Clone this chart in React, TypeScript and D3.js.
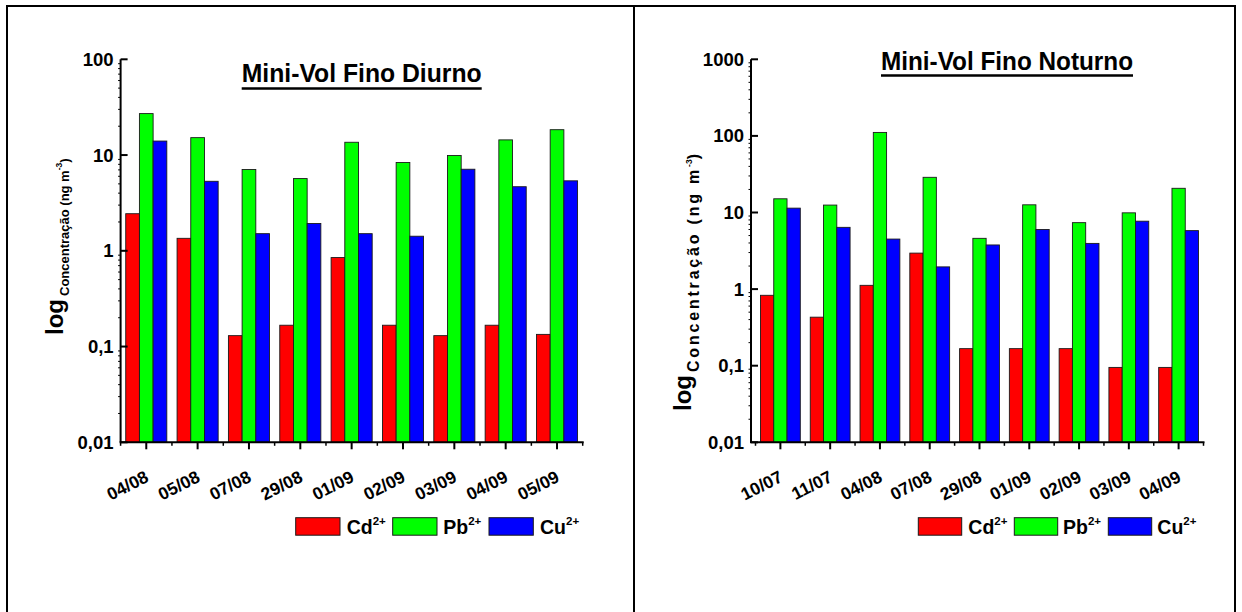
import React from 'react';
import * as d3 from 'd3';

const datesDiurno = ['04/08', '05/08', '07/08', '29/08', '01/09', '02/09', '03/09', '04/09', '05/09'];
const cdDiurno = [2.44, 1.35, 0.13, 0.167, 0.85, 0.167, 0.13, 0.167, 0.134];
const pbDiurno = [27.1, 15.2, 7.06, 5.68, 13.6, 8.36, 9.9, 14.4, 18.4];
const cuDiurno = [14.0, 5.32, 1.51, 1.93, 1.51, 1.42, 7.11, 4.67, 5.38];

const datesNoturno = ['10/07', '11/07', '04/08', '07/08', '29/08', '01/09', '02/09', '03/09', '04/09'];
const cdNoturno = [0.83, 0.43, 1.12, 2.95, 0.167, 0.167, 0.167, 0.095, 0.095];
const pbNoturno = [15.1, 12.5, 111, 28.8, 4.6, 12.6, 7.37, 9.9, 20.7];
const cuNoturno = [11.4, 6.4, 4.5, 1.95, 3.77, 6.0, 3.95, 7.7, 5.8];

const seriesNames = ['Cd', 'Pb', 'Cu'];
const seriesCharge = '2+';
const seriesColors = ['#ff0000', '#00ff00', '#0000ff'];
const yTicksDiurno = [0.01, 0.1, 1, 10, 100];
const yTicksNoturno = [0.01, 0.1, 1, 10, 100, 1000];

const FONT = "'Liberation Sans', Arial, Helvetica, sans-serif";

type Layout = {
  axisX: number;
  bandX0: number;
  bandX1: number;
  yTop: number;
  yBottom: number;
  titleX0: number;
  titleX1: number;
  titleBase: number;
  underlineY: number;
  logX: number;
  labelStartY: number;
  subDy: number;
  subFont: number;
  subSpacing: number;
  legendRectX: number[];
  legendRectW: number;
  legendTextX: number[];
};

function Panel(props: {
  cats: string[];
  series: number[][];
  yTicks: number[];
  title: string;
  L: Layout;
}) {
  const { cats, series, yTicks, title, L } = props;
  const x = d3.scaleBand<string>().domain(cats).range([L.bandX0, L.bandX1]).paddingInner(0.2).paddingOuter(0.1);
  const full = d3.scaleBand<string>().domain(cats).range([L.bandX0, L.bandX1]);
  const inner = d3.scaleBand<string>().domain(seriesNames).range([0, x.bandwidth()]);
  const yMin = yTicks[0];
  const yMax = yTicks[yTicks.length - 1];
  const y = d3.scaleLog().domain([yMin, yMax]).range([L.yBottom, L.yTop]);

  const minor: number[] = [];
  for (let i = 0; i < yTicks.length - 1; i++) {
    for (let k = 2; k <= 9; k++) minor.push(yTicks[i] * k);
  }
  const fmt = (v: number) => String(v).replace('.', ',');
  const bounds = cats.map((c) => full(c) as number).concat([L.bandX1]);

  return (
    <g fontFamily={FONT} fontWeight="bold">
      {cats.map((c, i) =>
        series.map((s, j) => (
          <rect
            key={c + j}
            x={(x(c) as number) + (inner(seriesNames[j]) as number)}
            y={y(s[i])}
            width={inner.bandwidth()}
            height={L.yBottom - y(s[i])}
            fill={seriesColors[j]}
            stroke="#1a1a1a"
            strokeWidth={0.9}
          />
        ))
      )}
      <line x1={L.axisX} x2={L.axisX} y1={L.yTop} y2={L.yBottom} stroke="#000" strokeWidth={2} />
      {yTicks.map((t) => (
        <g key={t}>
          <line x1={L.axisX} x2={L.axisX + 7} y1={y(t)} y2={y(t)} stroke="#000" strokeWidth={2} />
          <text x={L.axisX - 7} y={y(t)} textAnchor="end" dominantBaseline="central" fontSize={18.5}>
            {fmt(t)}
          </text>
        </g>
      ))}
      {minor.map((t, i) => (
        <line key={i} x1={L.axisX - 2.5} x2={L.axisX} y1={y(t)} y2={y(t)} stroke="#000" strokeWidth={1} />
      ))}
      <line x1={L.axisX - 1} x2={L.bandX1 + 1} y1={L.yBottom} y2={L.yBottom} stroke="#000" strokeWidth={2} />
      {bounds.map((b, i) => (
        <line key={'b' + i} x1={b} x2={b} y1={L.yBottom} y2={L.yBottom + 3.5} stroke="#000" strokeWidth={1.5} />
      ))}
      {cats.map((c) => {
        const cx = (full(c) as number) + full.bandwidth() / 2;
        return (
          <g key={'t' + c}>
            <line x1={cx} x2={cx} y1={L.yBottom} y2={L.yBottom + 7} stroke="#000" strokeWidth={2} />
            <text
              transform={`translate(${cx + 3.5},${L.yBottom + 38.5}) rotate(-27)`}
              textAnchor="end"
              fontSize={17.5}
            >
              {c}
            </text>
          </g>
        );
      })}
      <text
        x={L.titleX0}
        y={L.titleBase}
        fontSize={25}
        textLength={L.titleX1 - L.titleX0}
        lengthAdjust="spacingAndGlyphs"
      >
        {title}
      </text>
      <rect x={L.titleX0} y={L.underlineY - 1.25} width={L.titleX1 - L.titleX0} height={2.5} fill="#000" />
      <text transform={`translate(${L.logX},${L.labelStartY}) rotate(-90)`}>
        <tspan fontSize={24}>log</tspan>
        <tspan fontSize={L.subFont} dx={3} dy={L.subDy} letterSpacing={L.subSpacing}>
          Concentração (ng m
        </tspan>
        <tspan fontSize={8.5} dy={-7}>
          -3
        </tspan>
        <tspan fontSize={L.subFont} dy={7}>
          )
        </tspan>
      </text>
      {seriesNames.map((n, j) => (
        <g key={'l' + n}>
          <rect
            x={L.legendRectX[j]}
            y={517.7}
            width={L.legendRectW}
            height={17.5}
            fill={seriesColors[j]}
            stroke="#1a1a1a"
            strokeWidth={1}
          />
          <text x={L.legendTextX[j]} y={533.5} fontSize={19.5}>
            {n}
            <tspan fontSize={11.5} dy={-9}>
              {seriesCharge}
            </tspan>
          </text>
        </g>
      ))}
    </g>
  );
}

const layoutLeft: Layout = {
  axisX: 120.6,
  bandX0: 120.6,
  bandX1: 582.7,
  yTop: 59.3,
  yBottom: 442.3,
  titleX0: 241.7,
  titleX1: 481.7,
  titleBase: 82,
  underlineY: 88.5,
  logX: 63,
  labelStartY: 335,
  subDy: 6,
  subFont: 13,
  subSpacing: 0,
  legendRectX: [295.7, 392.7, 489],
  legendRectW: 44.3,
  legendTextX: [346.7, 443.3, 540],
};

const layoutRight: Layout = {
  axisX: 751,
  bandX0: 755.5,
  bandX1: 1203.5,
  yTop: 59.3,
  yBottom: 442.3,
  titleX0: 881,
  titleX1: 1133,
  titleBase: 70,
  underlineY: 75.5,
  logX: 691,
  labelStartY: 411,
  subDy: 8,
  subFont: 16,
  subSpacing: 2.8,
  legendRectX: [918.3, 1014.3, 1108.3],
  legendRectW: 43.4,
  legendTextX: [968.3, 1063, 1157.3],
};

export default function App() {
  return (
    <svg width={1242} height={612} style={{ position: 'absolute', left: 0, top: 0, background: '#fff' }}>
      <rect width={1242} height={612} fill="#fff" />
      <line x1={6} x2={1236} y1={6} y2={6} stroke="#000" strokeWidth={2} />
      <line x1={7} x2={7} y1={5} y2={612} stroke="#000" strokeWidth={2} />
      <line x1={634} x2={634} y1={5} y2={612} stroke="#000" strokeWidth={2} />
      <line x1={1235} x2={1235} y1={5} y2={612} stroke="#000" strokeWidth={2} />
      <Panel
        cats={datesDiurno}
        series={[cdDiurno, pbDiurno, cuDiurno]}
        yTicks={yTicksDiurno}
        title="Mini-Vol Fino Diurno"
        L={layoutLeft}
      />
      <Panel
        cats={datesNoturno}
        series={[cdNoturno, pbNoturno, cuNoturno]}
        yTicks={yTicksNoturno}
        title="Mini-Vol Fino Noturno"
        L={layoutRight}
      />
    </svg>
  );
}
